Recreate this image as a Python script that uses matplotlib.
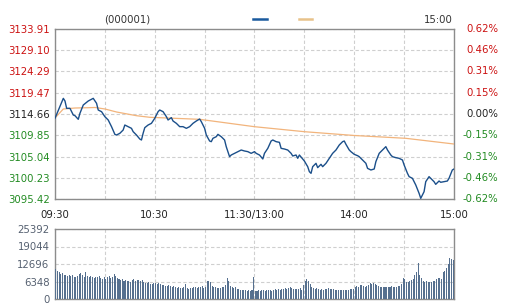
import numpy as np
import matplotlib
matplotlib.use("Agg")
import matplotlib.pyplot as plt
from matplotlib.lines import Line2D
import matplotlib.transforms as mtransforms

# ---------------- data ----------------
code_label = "(000001)"
prev_close = 3114.66
price_ticks = [3095.42, 3100.23, 3105.04, 3109.85, 3114.66, 3119.47, 3124.29, 3129.10, 3133.91]
price_tick_labels = ["3095.42", "3100.23", "3105.04", "3109.85", "3114.66",
                     "3119.47", "3124.29", "3129.10", "3133.91"]
time_ticks = [0, 60, 120, 180, 240]
time_labels = ["09:30", "10:30", "11:30/13:00", "14:00", "15:00"]
vol_ticks = [0, 6348, 12696, 19044, 25392]
vol_tick_labels = ["0", "6348", "12696", "19044", "25392"]

price_minute = [0, 5, 6, 7, 9, 11, 12, 14, 15, 17, 20, 23, 25, 26, 28, 30, 32, 34, 36, 37,
                39, 41, 42, 44, 46, 47, 49, 51, 52, 53, 54, 56, 58, 60, 62, 63, 65, 67, 68, 70,
                71, 73, 75, 77, 79, 81, 83, 85, 87, 88, 90, 91, 93, 94, 95, 97, 98, 100, 102, 103,
                105, 106, 108, 110, 112, 114, 116, 118, 120, 121, 123, 125, 126, 128, 130, 131, 133, 135, 136, 138,
                140, 142, 143, 145, 146, 147, 149, 150, 152, 153, 154, 155, 157, 158, 160, 161, 163, 165, 167, 169,
                171, 173, 174, 175, 177, 178, 180, 182, 183, 185, 187, 188, 190, 192, 193, 195, 196, 198, 199, 200,
                202, 203, 205, 207, 209, 210, 212, 213, 215, 217, 219, 220, 222, 223, 225, 226, 228, 229, 231, 232,
                234, 236, 237, 239, 240]
price = [3113.69, 3118.21, 3117.61, 3115.95, 3115.95, 3114.44, 3114.29, 3113.46, 3114.82, 3116.70,
         3117.61, 3118.21, 3117.08, 3115.57, 3115.19, 3114.06, 3113.31, 3111.80, 3110.06, 3109.91,
         3110.29, 3111.04, 3112.17, 3111.80, 3111.42, 3110.67, 3109.91, 3109.00, 3108.78, 3110.29,
         3111.57, 3112.17, 3112.55, 3113.69, 3115.19, 3115.57, 3115.19, 3114.06, 3113.31, 3113.84,
         3113.08, 3112.55, 3111.80, 3111.80, 3111.42, 3111.80, 3112.55, 3113.08, 3113.53, 3112.93,
         3111.42, 3109.91, 3108.55, 3108.40, 3109.16, 3109.53, 3110.06, 3109.53, 3108.78, 3107.27,
         3105.00, 3105.38, 3105.76, 3106.14, 3106.51, 3106.29, 3106.14, 3105.76, 3106.14, 3105.76,
         3105.38, 3104.48, 3105.76, 3106.89, 3108.55, 3108.78, 3108.40, 3108.25, 3106.89, 3106.74,
         3106.51, 3105.76, 3105.16, 3105.38, 3104.63, 3105.38, 3104.48, 3104.02, 3102.74, 3101.61,
         3101.23, 3102.74, 3103.50, 3102.52, 3103.27, 3102.74, 3103.50, 3104.63, 3105.76, 3106.51,
         3107.65, 3108.40, 3108.55, 3107.80, 3106.51, 3106.14, 3105.53, 3105.23, 3105.00, 3104.25,
         3103.50, 3102.36, 3101.99, 3102.21, 3103.87, 3105.76, 3106.14, 3106.89, 3107.27, 3106.51,
         3105.38, 3105.00, 3104.78, 3104.63, 3104.25, 3103.12, 3101.23, 3100.48, 3100.10, 3098.59,
         3096.70, 3095.57, 3097.08, 3099.34, 3100.48, 3100.10, 3099.34, 3098.74, 3099.49, 3099.20,
         3099.34, 3099.49, 3100.10, 3101.99, 3102.21]

avg_minute = [0, 5, 12, 20, 24, 30, 37, 49, 57, 87, 120, 150, 180, 211, 240]
avg_price = [3113.76, 3115.80, 3116.02, 3116.09, 3116.14, 3115.80, 3115.12, 3114.28,
             3113.92, 3113.46, 3111.79, 3110.66, 3109.80, 3109.16, 3107.87]

volume = [
    10800, 10300, 9900, 9200, 9600, 8700, 8800, 8500, 8600, 8400,
    8700, 8100, 7800, 8400, 8900, 9500, 8600, 8100, 9900, 8300,
    7900, 8200, 8000, 7700, 8100, 7900, 8300, 7600, 7400, 7900,
    7300, 7800, 8400, 7700, 8100, 9100, 8400, 7600, 7100, 6800,
    7200, 6600, 6900, 6700, 6400, 6100, 6800, 7100, 6600, 6900,
    7000, 6500, 6800, 6200, 5900, 5700, 6100, 5600, 5400, 5800,
    5700, 5500, 5900, 5300, 4900, 5100, 4700, 4800, 5200, 4600,
    4500, 4700, 4300, 4100, 4400, 3900, 4000, 4200, 5300, 4100,
    3700, 4100, 3900, 4300, 4200, 4000, 4400, 4300, 4600, 4100,
    4500, 6500, 6700, 6200, 4800, 4200, 4300, 3900, 4100, 4000,
    4300, 4500, 5200, 7600, 6500, 4700, 4400, 4000, 4300, 3600,
    3500, 3200, 3100, 3400, 3300, 3000, 3200, 2900, 3300, 7900,
    3000, 2800, 3200, 2900, 3100, 3300, 3000, 3200, 3100, 3300,
    3000, 3200, 3500, 3300, 3600, 3400, 3800, 3600, 3900, 3700,
    4000, 4300, 3900, 3800, 3600, 3700, 3500, 3900, 3400, 5200,
    6600, 7100, 6400, 5500, 4400, 4000, 3700, 3900, 3600, 3400,
    3600, 3200, 3500, 3800, 4000, 3600, 3500, 3700, 3400, 3300,
    3400, 3200, 3300, 3100, 3400, 3300, 3200, 3500, 3600, 3800,
    4300, 4600, 4200, 4900, 5100, 4600, 4400, 4700, 5000, 5700,
    5400, 5900, 5600, 5100, 4800, 4300, 4200, 4500, 4400, 4300,
    4500, 4400, 4600, 4300, 4500, 4400, 4600, 4800, 5600, 7500,
    7200, 6300, 6100, 6400, 6800, 7400, 8600, 9900, 12900, 8700,
    7600, 6700, 6200, 6400, 6100, 6300, 6200, 6500, 6400, 7300,
    7500, 7600, 7400, 9900, 10200, 11100, 12600, 14800, 14500, 14200,
]

# ---------------- style ----------------
RED = "#cc1111"
GREEN = "#228b22"
GRAYTXT = "#556070"
LINE_BLUE = "#1b4f8a"
AVG_ORANGE = "#f2b47c"
GRID = "#cfcfcf"
FRAME = "#8c8c8c"
FS = 7.3

plt.rcParams["font.family"] = ["DejaVu Sans"]

W, H = 505, 306
fig = plt.figure(figsize=(W / 100, H / 100), dpi=100)

def rect(l, t, r, b):
    return [l / W, 1 - b / H, (r - l) / W, (b - t) / H]

ax = fig.add_axes(rect(55, 29, 454, 199))
axv = fig.add_axes(rect(55, 229, 454, 299))

# main panel
ax.plot(avg_minute, avg_price, color=AVG_ORANGE, lw=0.9, zorder=3)
ax.plot(price_minute, price, color=LINE_BLUE, lw=1.0, zorder=4)
ax.set_xlim(0, 240)
ax.set_ylim(price_ticks[0], price_ticks[-1])
ax.set_yticks(price_ticks)
ax.set_yticklabels(price_tick_labels, fontsize=FS)
for lab, v in zip(ax.get_yticklabels(), price_ticks):
    lab.set_color(RED if v > prev_close + 1e-6 else (GREEN if v < prev_close - 1e-6 else "#222222"))
ax.set_xticks(np.arange(0, 241, 30))
ax.set_xticklabels([])
ax.tick_params(axis="both", length=0, pad=4)
ax.grid(True, color=GRID, lw=0.8, ls=(0, (3, 2)))
for s in ax.spines.values():
    s.set_color(FRAME)
    s.set_linewidth(1.0)

# right percent labels
trans = mtransforms.blended_transform_factory(ax.transAxes, ax.transData)
for v in price_ticks:
    pct = (v - prev_close) / prev_close * 100
    txt = f"{pct:.2f}%"
    if abs(pct) < 0.005:
        txt = "0.00%"
        col = "#222222"
    else:
        col = RED if pct > 0 else GREEN
    ax.text((498 - 55) / 399, v, txt, transform=trans, ha="right", va="center",
            fontsize=FS, color=col, clip_on=False)

# time labels between panels
for t, lab in zip(time_ticks, time_labels):
    ax.text(t, -0.095, lab, transform=mtransforms.blended_transform_factory(ax.transData, ax.transAxes),
            ha="center", va="center", fontsize=FS, color="#222222", clip_on=False)

# volume panel
xs = np.arange(len(volume)) + 0.5
axv.bar(xs, volume, width=0.62, color="#56708f", zorder=3, linewidth=0)
axv.set_xlim(0, 240)
axv.set_ylim(vol_ticks[0], vol_ticks[-1])
axv.set_yticks(vol_ticks)
axv.set_yticklabels(vol_tick_labels, fontsize=FS, color=GRAYTXT)
axv.set_xticks(np.arange(0, 241, 30))
axv.set_xticklabels([])
axv.tick_params(axis="both", length=0, pad=4)
axv.grid(True, color=GRID, lw=0.8, ls=(0, (3, 2)), zorder=0)
for s in axv.spines.values():
    s.set_color(FRAME)
    s.set_linewidth(1.0)

# header
fig.text(127 / W, 1 - 20 / H, code_label, ha="center", va="center", fontsize=FS, color="#333333")
fig.text(453 / W, 1 - 20 / H, "15:00", ha="right", va="center", fontsize=FS, color="#333333")
fig.add_artist(Line2D([253 / W, 267 / W], [1 - 18.5 / H, 1 - 18.5 / H], color="#1a5a9e", lw=1.8))
fig.add_artist(Line2D([299 / W, 312 / W], [1 - 18.5 / H, 1 - 18.5 / H], color="#e8c28a", lw=1.8))

fig.savefig("out.png", dpi=100)
